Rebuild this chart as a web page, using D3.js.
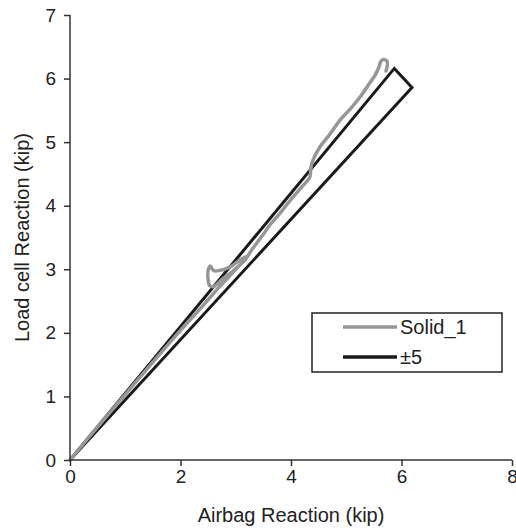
<!DOCTYPE html>
<html>
<head>
<meta charset="utf-8">
<script src="https://cdn.jsdelivr.net/npm/d3@7"></script>
<style>
  body { margin: 0; background: #fff; }
  text { font-family: "Liberation Sans", Arial, sans-serif; fill: #222; }
</style>
</head>
<body>
<div id="chart"></div>
<script>
// Chart data
const xTicks = [0, 2, 4, 6, 8];
const yTicks = [0, 1, 2, 3, 4, 5, 6, 7];

// Solid_1 test curve (airbag, load cell) in kip
const solidX = [0, 0.5, 1, 1.5, 2, 2.4, 2.7, 3.0, 3.2, 3.1, 2.88, 2.7, 2.6, 2.54, 2.5, 2.5, 2.53, 2.6, 2.75, 2.92, 3.17,
  3.3, 3.5, 3.62, 3.8, 4.0, 4.2, 4.34, 4.36, 4.4, 4.52, 4.7, 4.89, 5.05, 5.25, 5.4, 5.52, 5.6, 5.62, 5.67, 5.74, 5.72];
const solidY = [0, 0.52, 1.03, 1.54, 2.04, 2.42, 2.72, 3.0, 3.2, 3.16, 3.03, 2.98, 2.98, 3.05, 2.98, 2.84, 2.74, 2.73, 2.84, 2.95, 3.15,
  3.32, 3.55, 3.7, 3.88, 4.1, 4.3, 4.45, 4.6, 4.72, 4.92, 5.12, 5.35, 5.5, 5.71, 5.9, 6.05, 6.2, 6.26, 6.3, 6.27, 6.12];

// +/-5 envelope
const bandX = [0, 5.87, 6.19, 0];
const bandY = [0, 6.16, 5.86, 0];

const svgWidth = 516;
const svgHeight = 531;
const margin = { top: 15, right: 4, bottom: 71, left: 70 };
const chartWidth = svgWidth - margin.left - margin.right;
const chartHeight = svgHeight - margin.top - margin.bottom;

const svg = d3.select("#chart")
  .append("svg")
  .attr("width", svgWidth)
  .attr("height", svgHeight);

const chartGroup = svg.append("g")
  .attr("transform", `translate(${margin.left}, ${margin.top})`);

const xScale = d3.scaleLinear().domain([0, 8]).range([0, chartWidth]);
const yScale = d3.scaleLinear().domain([0, 7]).range([chartHeight, 0]);

const line = d3.line()
  .x(d => xScale(d[0]))
  .y(d => yScale(d[1]));

// band (black)
chartGroup.append("path")
  .datum(bandX.map((x, i) => [x, bandY[i]]))
  .attr("d", line)
  .attr("fill", "none")
  .attr("stroke", "#1a1a1a")
  .attr("stroke-width", 3)
  .attr("stroke-linejoin", "miter");

// Solid_1 (grey)
chartGroup.append("path")
  .datum(solidX.map((x, i) => [x, solidY[i]]))
  .attr("d", line.curve(d3.curveCatmullRom))
  .attr("fill", "none")
  .attr("stroke", "#969696")
  .attr("stroke-width", 3.5)
  .attr("stroke-linejoin", "round")
  .attr("stroke-linecap", "round");

// axes
const bottomAxis = d3.axisBottom(xScale).tickValues(xTicks).tickFormat(d3.format("d")).tickSize(6).tickPadding(4);
const leftAxis = d3.axisLeft(yScale).tickValues(yTicks).tickFormat(d3.format("d")).tickSize(6).tickPadding(8);

const xg = chartGroup.append("g")
  .attr("transform", `translate(0, ${chartHeight})`)
  .call(bottomAxis);
const yg = chartGroup.append("g").call(leftAxis);

[xg, yg].forEach(g => {
  g.select(".domain").attr("stroke", "#333").attr("stroke-width", 1.5);
  g.selectAll(".tick line").attr("stroke", "#333").attr("stroke-width", 1.5);
  g.selectAll(".tick text")
    .attr("font-size", 19)
    .attr("font-family", "Liberation Sans, Arial, sans-serif")
    .attr("fill", "#222");
});
xg.selectAll(".domain").attr("d", `M0,0H${chartWidth}`);
yg.selectAll(".domain").attr("d", `M0,${chartHeight}V0`);

// axis labels
chartGroup.append("text")
  .attr("transform", "rotate(-90)")
  .attr("x", 0 - chartHeight / 2)
  .attr("y", 0 - margin.left + 29)
  .attr("text-anchor", "middle")
  .attr("font-size", 20)
  .text("Load cell Reaction (kip)");

chartGroup.append("text")
  .attr("x", xScale(4))
  .attr("y", chartHeight + 62)
  .attr("text-anchor", "middle")
  .attr("font-size", 20)
  .text("Airbag Reaction (kip)");

// legend
const legend = svg.append("g").attr("transform", "translate(312, 313)");
legend.append("rect")
  .attr("width", 190)
  .attr("height", 59)
  .attr("fill", "#fff")
  .attr("stroke", "#222")
  .attr("stroke-width", 1.5);

const legendItems = [
  { name: "Solid_1", color: "#969696" },
  { name: "\u00b15", color: "#1a1a1a" }
];
legendItems.forEach((d, i) => {
  const y = 14 + i * 30;
  legend.append("line")
    .attr("x1", 31).attr("x2", 85)
    .attr("y1", y).attr("y2", y)
    .attr("stroke", d.color)
    .attr("stroke-width", 3.5);
  legend.append("text")
    .attr("x", 88)
    .attr("y", y + 7)
    .attr("font-size", 20)
    .text(d.name);
});
</script>
</body>
</html>
